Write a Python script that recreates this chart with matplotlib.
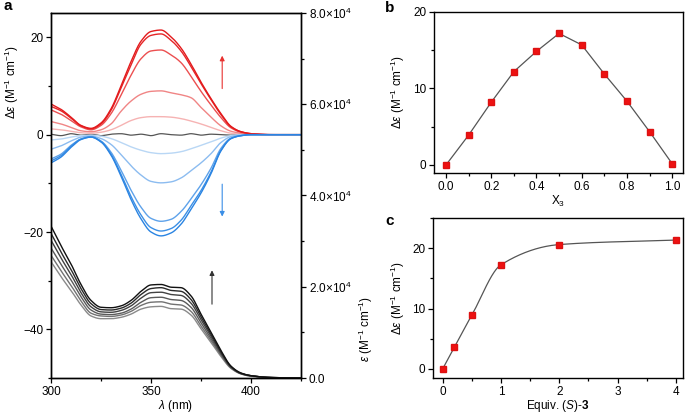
import numpy as np
import matplotlib
matplotlib.use('Agg')
import matplotlib.pyplot as plt
from matplotlib.ticker import MultipleLocator, FuncFormatter

plt.rcParams['font.family'] = ['Liberation Sans', 'DejaVu Sans']
plt.rcParams['mathtext.fontset'] = 'custom'
plt.rcParams['mathtext.rm'] = 'Liberation Sans'
plt.rcParams['mathtext.it'] = 'Liberation Sans:italic'
plt.rcParams['mathtext.bf'] = 'Liberation Sans:bold'
plt.rcParams['font.size'] = 8.5

# ---- panel a: CD (left axis) and UV (right axis) spectra ----
wl = [300, 305, 310, 315, 320, 325, 330, 335, 340, 345, 350, 355, 360, 365, 370,
      375, 380, 385, 390, 395, 400, 410, 425]

# (S)-3 additions: 0.2, 0.5, 1, 2, 4 equiv.
cd_red_1 = [1.2, 1.0, 0.7, 0.4, 0.3, 0.5, 1.0, 1.9, 2.9, 3.5, 3.7, 3.7, 3.6, 3.3, 2.8,
            2.2, 1.5, 0.8, 0.3, 0.1, 0.0, 0.0, 0.0]
cd_red_2 = [2.7, 2.2, 1.5, 0.8, 0.6, 1.0, 2.2, 4.8, 6.9, 8.3, 8.9, 9.0, 8.6, 8.2, 7.6,
            5.6, 3.6, 1.8, 0.7, 0.3, 0.1, 0.0, 0.0]
cd_red_3 = [5.1, 4.2, 2.9, 1.6, 1.0, 1.9, 4.3, 8.1, 12.2, 15.6, 17.2, 17.4, 16.4, 14.8, 12.0,
            8.9, 6.1, 3.5, 1.4, 0.5, 0.2, 0.0, 0.0]
cd_red_4 = [5.8, 4.9, 3.4, 1.8, 1.2, 2.2, 5.0, 9.6, 14.3, 18.6, 20.4, 20.7, 19.4, 17.2, 14.0,
            10.5, 7.2, 4.1, 1.6, 0.6, 0.2, 0.0, 0.0]
cd_red_5 = [6.3, 5.2, 3.6, 1.9, 1.3, 2.4, 5.3, 10.0, 15.0, 19.2, 21.2, 21.5, 20.1, 17.8, 14.5,
            10.8, 7.4, 4.3, 1.7, 0.6, 0.2, 0.0, 0.0]
cd_zero = [0.1, -0.2, 0.2, -0.1, 0.1, -0.2, 0.1, 0.2, -0.1, 0.1, -0.2, 0.2, 0.0, -0.1, 0.2,
           -0.1, 0.1, 0.0, -0.1, 0.1, 0.0, 0.0, 0.0]
# (R)-3 additions
cd_blue_1 = [-1.1, -0.9, -0.5, -0.2, -0.1, -0.3, -0.8, -1.6, -2.5, -3.2, -3.7, -3.9, -3.8, -3.5, -2.9,
             -2.2, -1.5, -0.7, -0.2, 0.0, 0.0, 0.0, 0.0]
cd_blue_2 = [-3.0, -2.3, -1.3, -0.5, -0.3, -0.8, -2.0, -4.1, -6.4, -8.3, -9.6, -9.9, -9.7, -8.9, -7.4,
             -5.8, -3.9, -1.6, -0.4, -0.1, 0.0, 0.0, 0.0]
cd_blue_3 = [-5.0, -4.0, -2.2, -0.9, -0.4, -1.3, -3.6, -7.3, -11.4, -14.9, -17.2, -17.8, -17.4, -15.8, -13.2,
             -10.3, -6.9, -2.8, -0.7, -0.2, 0.0, 0.0, 0.0]
cd_blue_4 = [-5.4, -4.3, -2.4, -0.9, -0.5, -1.4, -4.0, -8.1, -12.7, -16.5, -19.1, -19.8, -19.3, -17.6, -14.6,
             -11.5, -7.7, -3.2, -0.8, -0.2, 0.0, 0.0, 0.0]
cd_blue_5 = [-5.8, -4.6, -2.6, -1.0, -0.5, -1.5, -4.2, -8.5, -13.3, -17.3, -20.0, -20.8, -20.2, -18.4, -15.3,
             -12.0, -8.0, -3.3, -0.8, -0.2, 0.0, 0.0, 0.0]

# UV absorption, units of 1e4 M-1 cm-1
uv_1 = [2.55, 2.22, 1.92, 1.60, 1.36, 1.30, 1.30, 1.33, 1.40, 1.51, 1.56, 1.57, 1.52, 1.51, 1.38,
        1.08, 0.78, 0.47, 0.21, 0.09, 0.04, 0.01, 0.0]
uv_2 = [2.69, 2.35, 2.03, 1.69, 1.42, 1.36, 1.35, 1.38, 1.46, 1.59, 1.66, 1.67, 1.62, 1.60, 1.46,
        1.14, 0.82, 0.50, 0.22, 0.09, 0.04, 0.01, 0.0]
uv_3 = [2.85, 2.49, 2.15, 1.78, 1.49, 1.40, 1.39, 1.42, 1.51, 1.66, 1.76, 1.77, 1.72, 1.70, 1.55,
        1.21, 0.87, 0.52, 0.23, 0.10, 0.05, 0.01, 0.0]
uv_4 = [3.02, 2.63, 2.27, 1.87, 1.56, 1.45, 1.44, 1.48, 1.58, 1.75, 1.87, 1.88, 1.83, 1.81, 1.64,
        1.28, 0.91, 0.55, 0.24, 0.10, 0.05, 0.01, 0.0]
uv_5 = [3.17, 2.76, 2.38, 1.96, 1.63, 1.50, 1.49, 1.53, 1.64, 1.83, 1.96, 1.98, 1.92, 1.90, 1.72,
        1.34, 0.96, 0.57, 0.25, 0.10, 0.05, 0.01, 0.0]
uv_6 = [3.33, 2.90, 2.50, 2.05, 1.70, 1.55, 1.54, 1.58, 1.70, 1.90, 2.04, 2.05, 1.99, 1.98, 1.80,
        1.40, 1.00, 0.60, 0.26, 0.11, 0.05, 0.01, 0.0]

# ---- panel b: Job plot ----
job_x = [0.0, 0.1, 0.2, 0.3, 0.4, 0.5, 0.6, 0.7, 0.8, 0.9, 1.0]
job_y = [0.0, 3.9, 8.2, 12.2, 14.85, 17.2, 15.7, 11.9, 8.35, 4.36, 0.17]

# ---- panel c: titration ----
eq_x = [0.0, 0.2, 0.5, 1.0, 2.0, 4.0]
eq_y = [0.0, 3.6, 8.9, 17.25, 20.6, 21.35]

red_cols = ['#f6b3b3', '#f08585', '#ec4f50', '#e52527', '#e31a1c']
blue_cols = ['#b9d7f5', '#8cbcf0', '#5ea2ea', '#3b8fe5', '#2a84e2']
uv_cols = ['#8a8a8a', '#727272', '#5a5a5a', '#424242', '#2a2a2a', '#111111']


def pchip(x, y, xn):
    x = np.asarray(x, float)
    y = np.asarray(y, float)
    h = np.diff(x)
    dl = np.diff(y) / h
    d = np.zeros(len(x))
    d[0] = dl[0]
    d[-1] = dl[-1]
    for k in range(1, len(x) - 1):
        if dl[k - 1] * dl[k] > 0:
            w1 = 2 * h[k] + h[k - 1]
            w2 = h[k] + 2 * h[k - 1]
            d[k] = (w1 + w2) / (w1 / dl[k - 1] + w2 / dl[k])
    i = np.clip(np.searchsorted(x, xn) - 1, 0, len(x) - 2)
    t = (xn - x[i]) / h[i]
    h00 = 2 * t**3 - 3 * t**2 + 1
    h10 = t**3 - 2 * t**2 + t
    h01 = -2 * t**3 + 3 * t**2
    h11 = t**3 - t**2
    return h00 * y[i] + h10 * h[i] * d[i] + h01 * y[i + 1] + h11 * h[i] * d[i + 1]


fig = plt.figure(figsize=(6.85, 4.15), dpi=100)

ax = fig.add_axes([51 / 685, 37 / 415, 250 / 685, 365 / 415])
ax2 = ax.twinx()

wl_fine = np.linspace(300, 425, 600)
for ys, c in zip([uv_1, uv_2, uv_3, uv_4, uv_5, uv_6], uv_cols):
    ax2.plot(wl_fine, pchip(wl, ys, wl_fine) * 1e4, color=c, lw=1.0)

ax.plot(wl_fine, pchip(wl, cd_zero, wl_fine), color='#555555', lw=0.9)
for ys, c in zip([cd_red_1, cd_red_2, cd_red_3, cd_red_4, cd_red_5], red_cols):
    ax.plot(wl_fine, pchip(wl, ys, wl_fine), color=c, lw=1.0)
for ys, c in zip([cd_blue_1, cd_blue_2, cd_blue_3, cd_blue_4, cd_blue_5], blue_cols):
    ax.plot(wl_fine, pchip(wl, ys, wl_fine), color=c, lw=1.0)

ax.annotate('', xy=(385.6, 16.8), xytext=(385.6, 8.9),
            arrowprops=dict(arrowstyle='-|>', color='#e8312f', lw=0.8, mutation_scale=7))
ax.annotate('', xy=(385.6, -17.4), xytext=(385.6, -9.6),
            arrowprops=dict(arrowstyle='-|>', color='#3a8ee6', lw=0.8, mutation_scale=7))
ax.annotate('', xy=(380.5, -27.3), xytext=(380.5, -35.4),
            arrowprops=dict(arrowstyle='-|>', color='#333333', lw=0.8, mutation_scale=7))

ax.set_xlim(300, 425)
ax.set_ylim(-50, 25)
ax2.set_ylim(0, 8e4)
ax.xaxis.set_major_locator(MultipleLocator(50))
ax.xaxis.set_minor_locator(MultipleLocator(25))
ax.yaxis.set_major_locator(MultipleLocator(20))
ax.yaxis.set_minor_locator(MultipleLocator(10))
ax2.yaxis.set_major_locator(MultipleLocator(2e4))
ax2.yaxis.set_minor_locator(MultipleLocator(1e4))


def sci(v, pos):
    if v == 0:
        return '0.0'
    return r'%.1f$\times$10$^{4}$' % (v / 1e4)


ax2.yaxis.set_major_formatter(FuncFormatter(sci))
ax.set_xlabel(r'$\lambda$ (nm)', labelpad=0)
ax.set_ylabel(r'$\Delta\varepsilon$ (M$^{-1}$ cm$^{-1}$)')
ax.yaxis.set_label_coords(-0.118, 0.81)
ax2.set_ylabel(r'$\varepsilon$ (M$^{-1}$ cm$^{-1}$)')
ax2.yaxis.set_label_coords(1.225, 0.135)

for a in (ax, ax2):
    for s in a.spines.values():
        s.set_linewidth(1.0)
    a.tick_params(which='major', direction='out', length=3.6, width=0.9, pad=2)
    a.tick_params(which='minor', direction='out', length=2.0, width=0.9)

# ---- panel b ----
bx = fig.add_axes([434 / 685, 242 / 415, 249 / 685, 161 / 415])
bx.plot(job_x, job_y, color='#555555', lw=0.9, marker='s', ms=5,
        mfc='#ee1111', mec='#dd1111')
bx.set_xlim(-0.053, 1.048)
bx.set_ylim(-1.05, 20)
bx.xaxis.set_major_locator(MultipleLocator(0.2))
bx.xaxis.set_minor_locator(MultipleLocator(0.1))
bx.yaxis.set_major_locator(MultipleLocator(10))
bx.yaxis.set_minor_locator(MultipleLocator(5))
bx.xaxis.set_major_formatter(FuncFormatter(lambda v, p: '%.1f' % v))
bx.set_xlabel(r'X$_3$', labelpad=1)
bx.set_ylabel(r'$\Delta\varepsilon$ (M$^{-1}$ cm$^{-1}$)')

# ---- panel c ----
cx = fig.add_axes([433.3 / 685, 37 / 415, 249.7 / 685, 160 / 415])
x_fit = np.linspace(0, 4, 400)
cx.plot(x_fit, pchip(eq_x, eq_y, x_fit), color='#555555', lw=0.9)
cx.plot(eq_x, eq_y, 's', ms=5, mfc='#ee1111', mec='#dd1111')
cx.set_xlim(-0.16, 4.12)
cx.set_ylim(-1.5, 25)
cx.xaxis.set_major_locator(MultipleLocator(1))
cx.xaxis.set_minor_locator(MultipleLocator(0.5))
cx.yaxis.set_major_locator(MultipleLocator(10))
cx.yaxis.set_minor_locator(MultipleLocator(5))
cx.set_xlabel(r'Equiv. ($\mathit{S}$)-$\mathbf{3}$', labelpad=0)
cx.set_ylabel(r'$\Delta\varepsilon$ (M$^{-1}$ cm$^{-1}$)')

for a in (bx, cx):
    for s in a.spines.values():
        s.set_linewidth(1.0)
    a.tick_params(which='major', direction='out', length=3.6, width=0.9, pad=2)
    a.tick_params(which='minor', direction='out', length=2.0, width=0.9)

fig.text(4 / 685, 1 - 10 / 415, 'a', fontsize=11, fontweight='bold')
fig.text(385 / 685, 1 - 12 / 415, 'b', fontsize=11, fontweight='bold')
fig.text(385 / 685, 1 - 225 / 415, 'c', fontsize=11, fontweight='bold')

fig.savefig('out.png', dpi=100)
